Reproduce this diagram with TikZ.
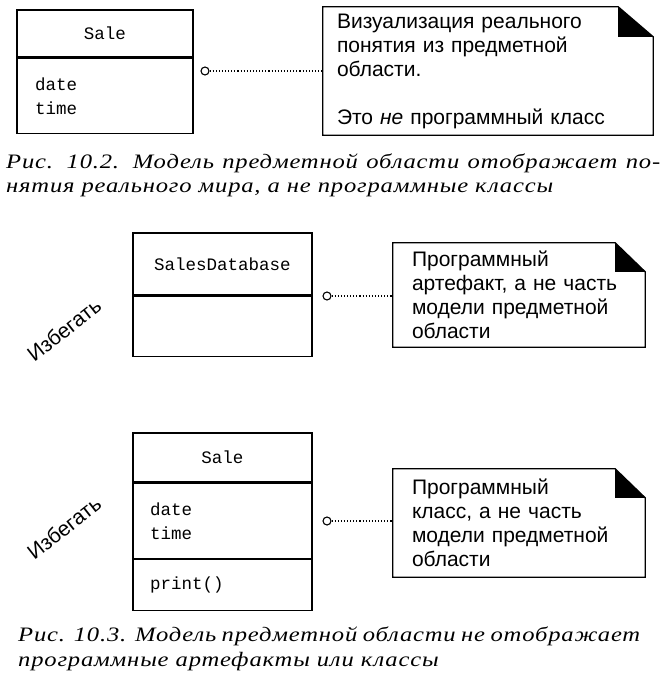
\documentclass[tikz,border=0pt]{standalone}
\usepackage{fontspec}
\setmainfont{Liberation Sans}
\setmonofont{Liberation Mono}
\newfontfamily\capfont{Liberation Serif}[FakeStretch=1.2,LetterSpace=4]
\usetikzlibrary{positioning}

\tikzset{
  clsbox/.style={draw,line width=1.3pt,font=\ttfamily\fontsize{17.5}{24}\selectfont,inner sep=0pt},
  notebox/.style={font=\fontsize{21}{24}\selectfont,align=left,inner ysep=0pt},
  noteline/.style={line width=1.3pt},
  lolli/.style={circle,draw,line width=1.1pt,minimum size=8pt,inner sep=0pt},
  link/.style={dotted,line width=1.1pt},
  avoid/.style={font=\fontsize{21}{24}\selectfont,rotate=38},
  capline/.style={font=\capfont\itshape\fontsize{20.5}{26}\selectfont,anchor=west,inner sep=0pt}
}

\begin{document}
\begin{tikzpicture}[x=1pt,y=-1pt]
\useasboundingbox (0,0) rectangle (666,687);
% fig 10.2
\node[clsbox,minimum width=176pt,minimum height=47pt] (salehd) at (105,33.5) {Sale};
\node[clsbox,minimum width=176pt,minimum height=75pt,anchor=north,inner xsep=18pt,text width=140pt,align=left] (saleattr) at (salehd.south) {date\\time};
\node[lolli] (c1) at (205,71) {};
\node[notebox,inner xsep=14pt,text width=302pt,minimum height=128pt] (note1) at (488,71)
  {Визуализация реального\\понятия из предметной\\области.\\[24pt]Это \textit{не} программный класс};
\draw[noteline] (note1.north west) -- ([xshift=-35pt]note1.north east) -- ([yshift=-30pt]note1.north east) -- (note1.south east) -- (note1.south west) -- cycle;
\fill ([xshift=-35pt]note1.north east) -- ([xshift=-35pt,yshift=-30pt]note1.north east) -- ([yshift=-30pt]note1.north east) -- cycle;
\draw[link] (c1) -- (note1.west);
\node[capline] (cap1a) at (6,163) {\hbox to 654pt{Рис. 10.2. Модель предметной области отображает по-}};
\node[capline] (cap1b) at (6,190) {нятия реального мира, а не программные классы};
% fig 10.3, top
\node[avoid] (avoid1) at (64,330) {Избегать};
\node[clsbox,minimum width=179pt,minimum height=62pt] (dbhd) at (222.5,264) {SalesDatabase};
\node[clsbox,minimum width=179pt,minimum height=60pt,anchor=north] (dbattr) at (dbhd.south) {};
\node[lolli] (c2) at (327,296) {};
\node[notebox,inner xsep=19pt,text width=214pt,minimum height=104pt] (note2) at (519,295)
  {Программный\\артефакт, а не часть\\модели предметной\\области};
\draw[noteline] (note2.north west) -- ([xshift=-30pt]note2.north east) -- ([yshift=-29pt]note2.north east) -- (note2.south east) -- (note2.south west) -- cycle;
\fill ([xshift=-30pt]note2.north east) -- ([xshift=-30pt,yshift=-29pt]note2.north east) -- ([yshift=-29pt]note2.north east) -- cycle;
\draw[link] (c2) -- (c2 -| note2.west);
% fig 10.3, bottom
\node[avoid] (avoid2) at (64,528) {Избегать};
\node[clsbox,minimum width=179pt,minimum height=49pt] (sale2hd) at (222.5,457.5) {Sale};
\node[clsbox,minimum width=179pt,minimum height=75pt,anchor=north,inner xsep=17pt,text width=145pt,align=left] (sale2attr) at (sale2hd.south) {date\\time};
\node[clsbox,minimum width=179pt,minimum height=51pt,anchor=north,inner xsep=17pt,text width=145pt,align=left] (sale2ops) at (sale2attr.south) {print()};
\node[lolli] (c3) at (327,521) {};
\node[notebox,inner xsep=19pt,text width=214pt,minimum height=108pt] (note3) at (519,523)
  {Программный\\класс, а не часть\\модели предметной\\области};
\draw[noteline] (note3.north west) -- ([xshift=-30pt]note3.north east) -- ([yshift=-29pt]note3.north east) -- (note3.south east) -- (note3.south west) -- cycle;
\fill ([xshift=-30pt]note3.north east) -- ([xshift=-30pt,yshift=-29pt]note3.north east) -- ([yshift=-29pt]note3.north east) -- cycle;
\draw[link] (c3) -- (c3 -| note3.west);
\node[capline] (cap2a) at (18,636) {\hbox to 622pt{Рис. 10.3. Модель предметной области не отображает}};
\node[capline] (cap2b) at (18,662) {программные артефакты или классы};
\end{tikzpicture}
\end{document}
